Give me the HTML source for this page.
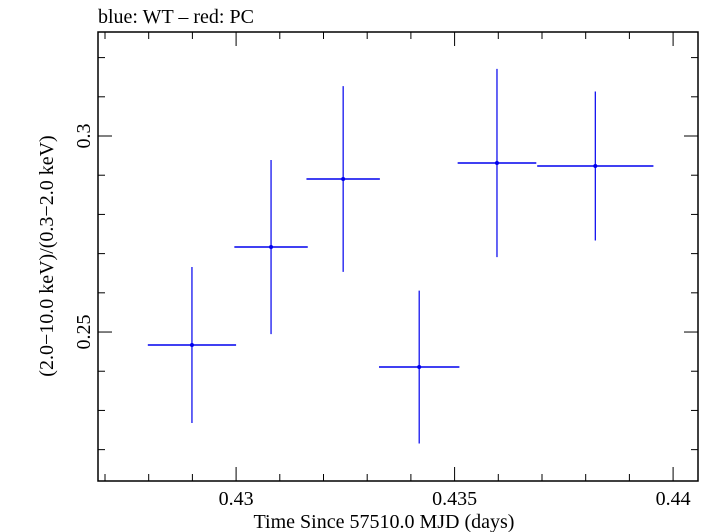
<!DOCTYPE html>
<html><head><meta charset="utf-8"><style>
html,body{margin:0;padding:0;background:#fff;}
svg{display:block;font-family:"Liberation Serif",serif;}
</style></head><body>
<svg id="chart" width="705" height="532" xmlns="http://www.w3.org/2000/svg">
<text x="98" y="23" font-size="20" fill="#000">blue: WT – red: PC</text>
<rect x="98" y="32" width="600" height="449" fill="none" stroke="#000" stroke-width="1.5"/>
<g id="ticks"></g>
<g id="marks"></g>
<text x="384" y="528" font-size="20" text-anchor="middle">Time Since 57510.0 MJD (days)</text>
<text transform="translate(53,256) rotate(-90)" font-size="20" text-anchor="middle">(2.0−10.0 keV)/(0.3−2.0 keV)</text>
</svg>
<script>
const xValues=[0.42899,0.43080,0.43245,0.43419,0.43597,0.43822];
const xErrors=[0.00101,0.00084,0.00084,0.00092,0.00090,0.00133];
const yValues=[0.24668,0.27168,0.28903,0.24107,0.29311,0.29235];
const yErrors=[0.0199,0.0222,0.0237,0.0195,0.0240,0.0190];
const xTickLabels=["0.43","0.435","0.44"];
const yTickLabels=["0.25","0.3"];
const L=98,R=698,T=32,B=481;
const x0=0.42684,x1=0.44057,y0=0.2120,y1=0.32653;
const sx=v=>L+(v-x0)/(x1-x0)*(R-L);
const sy=v=>B-(v-y0)/(y1-y0)*(B-T);
const NS="http://www.w3.org/2000/svg";
function mk(tag,attrs,parent){const e=document.createElementNS(NS,tag);for(const k in attrs)e.setAttribute(k,attrs[k]);parent.appendChild(e);return e;}
const tk=document.getElementById('ticks'),mg=document.getElementById('marks');
for(let i=427;i<=440;i++){const v=i/1000;const x=sx(v);if(x<L||x>R)continue;const major=i%5===0;const len=major?14:7;
 const a=mk('line',{x1:x,x2:x,y1:B,y2:B-len,stroke:'#000','stroke-width':1},tk);
 const b=mk('line',{x1:x,x2:x,y1:T,y2:T+len,stroke:'#000','stroke-width':1},tk);}
xTickLabels.forEach(s=>{const t=mk('text',{x:sx(parseFloat(s)),y:505,'font-size':20,'text-anchor':'middle'},tk);t.textContent=s;});
for(let i=22;i<=32;i++){const v=i/100;const y=sy(v);if(y<T||y>B)continue;const major=i%5===0;const len=major?14:7;
 const a=mk('line',{x1:L,x2:L+len,y1:y,y2:y,stroke:'#000','stroke-width':1},tk);
 const b=mk('line',{x1:R,x2:R-len,y1:y,y2:y,stroke:'#000','stroke-width':1},tk);}
yTickLabels.forEach(s=>{const y=sy(parseFloat(s));const t=mk('text',{transform:`translate(90,${y}) rotate(-90)`,'font-size':20,'text-anchor':'middle'},tk);t.textContent=s;});
xValues.forEach((xv,i)=>{const g=mk('g',{},mg);
 const cx=sx(xv),cy=sy(yValues[i]);
 mk('line',{x1:sx(xv-xErrors[i]),x2:sx(xv+xErrors[i]),y1:cy,y2:cy,stroke:'#0000ee','stroke-width':1.5},g);
 mk('line',{x1:cx,x2:cx,y1:sy(yValues[i]+yErrors[i]),y2:sy(yValues[i]-yErrors[i]),stroke:'#0000ee','stroke-width':1.2},g);
 mk('circle',{cx:cx,cy:cy,r:2,fill:'#0000ee'},g);});
</script>
</body></html>
